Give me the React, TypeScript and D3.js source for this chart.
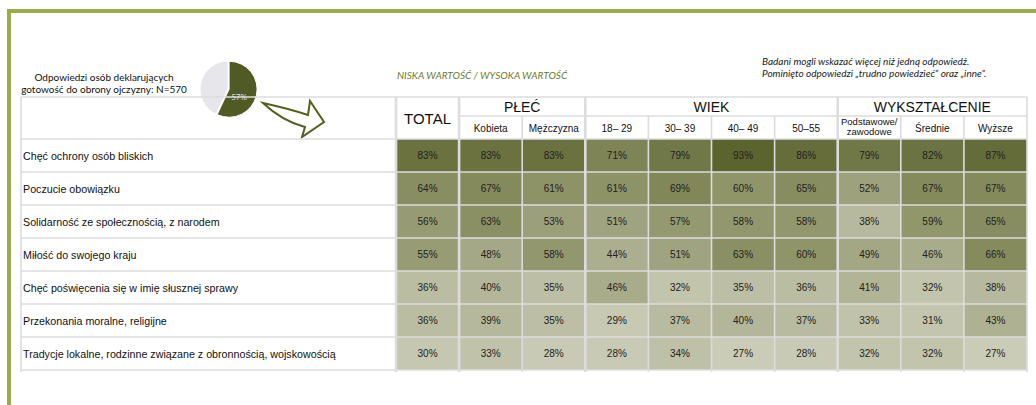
import * as d3 from 'd3'

const rowLabels = [
  'Chęć ochrony osób bliskich',
  'Poczucie obowiązku',
  'Solidarność ze społecznością, z narodem',
  'Miłość do swojego kraju',
  'Chęć poświęcenia się w imię słusznej sprawy',
  'Przekonania moralne, religijne',
  'Tradycje lokalne, rodzinne związane z obronnością, wojskowością',
]

const columnKeys = ['total', 'k', 'm', 'a1', 'a2', 'a3', 'a4', 'e1', 'e2', 'e3']
const subLabels = ['', 'Kobieta', 'Mężczyzna', '18– 29', '30– 39', '40– 49', '50–55', '', 'Średnie', 'Wyższe']

const groups = [
  { label: 'PŁEĆ', from: 'k', to: 'm' },
  { label: 'WIEK', from: 'a1', to: 'a4' },
  { label: 'WYKSZTAŁCENIE', from: 'e1', to: 'e3' },
]

const values = [
  [83, 83, 83, 71, 79, 93, 86, 79, 82, 87],
  [64, 67, 61, 61, 69, 60, 65, 52, 67, 67],
  [56, 63, 53, 51, 57, 58, 58, 38, 59, 65],
  [55, 48, 58, 44, 51, 63, 60, 49, 46, 66],
  [36, 40, 35, 46, 32, 35, 36, 41, 32, 38],
  [36, 39, 35, 29, 37, 40, 37, 33, 31, 43],
  [30, 33, 28, 28, 34, 27, 28, 32, 32, 27],
]

const pieShare = [57, 43]

const W = 1036
const H = 405
const gridColor = '#dcdcdc'
const arial = '"Liberation Sans", Arial, sans-serif'
const calibri = 'Lato, "Open Sans", sans-serif'

export default function App() {
  const x = d3.scaleBand<string>().domain(columnKeys).range([396, 1027])
  const y = d3.scaleBand<string>().domain(rowLabels).range([139, 370])
  const color = d3
    .scaleLinear<string>()
    .domain([27, 60, 93])
    .range(['#cbccb8', '#8f9469', '#5b632e'])
    .interpolate(d3.interpolateRgb)

  const bw = x.bandwidth()
  const bh = y.bandwidth()
  const tableLeft = 21
  const labelRight = 396
  const headTop = 97
  const headMid = 116
  const right = 1027

  const pie = d3.pie<number>().sort(null)(pieShare)
  const arc = d3.arc<d3.PieArcDatum<number>>().innerRadius(0).outerRadius(28)
  const pc = { x: 228, y: 89 }

  const sepX = [x('k')!, x('a1')!, x('e1')!]

  return (
    <svg width={W} height={H} style={{ position: 'absolute', left: 0, top: 0 }}>
      <rect width={W} height={H} fill="#fff" />
      {/* frame */}
      <rect x={7} y={9} width={W - 7} height={4} fill="#9aab4b" />
      <rect x={7} y={9} width={4} height={H - 9} fill="#9aab4b" />

      {/* caption */}
      <text x={104} y={80.5} textAnchor="middle" fontFamily={calibri} fontSize={10} fill="#111">
        Odpowiedzi osób deklarujących
      </text>
      <text x={104} y={93} textAnchor="middle" fontFamily={calibri} fontSize={10} fill="#111">
        gotowość do obrony ojczyzny: N=570
      </text>

      {/* pie */}
      <g transform={`translate(${pc.x},${pc.y})`}>
        {pie.map((d, i) => {
          const [cx, cy] = arc.centroid(d)
          const k = i === 0 ? 0.08 : 0
          return (
            <path
              key={i}
              d={arc(d) || ''}
              transform={`translate(${cx * k},${cy * k})`}
              fill={i === 0 ? '#4f5a25' : '#e7e6ea'}
              stroke="#fff"
              strokeWidth={1}
            />
          )
        })}
        <text x={11} y={10.5} textAnchor="middle" fontFamily={calibri} fontSize={8} fill="#dedede">
          57%
        </text>
      </g>

      {/* arrow */}
      <path
        d="M263,103 Q290,109 308,115 L310,101 L324,122 L302,137 L305,127 Q282,121 263,103 Z"
        fill="#fff"
        stroke="#55601f"
        strokeWidth={2}
        strokeLinejoin="miter"
      />

      <text x={397} y={79} fontFamily={calibri} fontStyle="italic" fontSize={10} fill="#6b7a2d">
        NISKA WARTOŚĆ / WYSOKA WARTOŚĆ
      </text>
      <text x={762} y={65} fontFamily={calibri} fontStyle="italic" fontSize={10} fill="#222">
        Badani mogli wskazać więcej niż jedną odpowiedź.
      </text>
      <text x={762} y={77} fontFamily={calibri} fontStyle="italic" fontSize={10} fill="#222">
        Pominięto odpowiedzi „trudno powiedzieć” oraz „inne”.
      </text>

      {/* cells */}
      {values.map((row, ri) =>
        row.map((v, ci) => {
          const cx = x(columnKeys[ci])!
          const cy = y(rowLabels[ri])!
          return (
            <g key={`${ri}-${ci}`}>
              <rect x={cx} y={cy} width={bw} height={bh} fill={color(v)} />
              <text
                x={cx + bw / 2}
                y={cy + bh / 2 + 3.5}
                textAnchor="middle"
                fontFamily={arial}
                fontSize={10}
                fill="#222"
              >
                {v}%
              </text>
            </g>
          )
        }),
      )}

      {/* grid: horizontal */}
      {[headTop, ...rowLabels.map((r) => y(r)!), 370].map((yy, i) => (
        <line key={`h${i}`} x1={tableLeft} x2={right} y1={yy} y2={yy} stroke={gridColor} strokeWidth={1.6} />
      ))}
      <line x1={x('k')!} x2={right} y1={headMid} y2={headMid} stroke={gridColor} strokeWidth={1.6} />

      {/* grid: vertical */}
      <line x1={tableLeft} x2={tableLeft} y1={headTop} y2={372} stroke={gridColor} strokeWidth={1.6} />
      {columnKeys.map((c, i) => {
        const xx = x(c)!
        const sep = sepX.includes(xx) || i === 0
        return (
          <line
            key={`v${c}`}
            x1={xx}
            x2={xx}
            y1={sep ? headTop : headMid}
            y2={372}
            stroke={gridColor}
            strokeWidth={sep ? 2.6 : 1.6}
          />
        )
      })}
      <line x1={right} x2={right} y1={headTop} y2={372} stroke={gridColor} strokeWidth={1.6} />

      {/* header texts */}
      <text x={x('total')! + bw / 2} y={123.5} textAnchor="middle" fontFamily={arial} fontSize={15} fill="#111">
        TOTAL
      </text>
      {groups.map((g) => {
        const x0 = x(g.from)!
        const x1 = x(g.to)! + bw
        return (
          <text key={g.label} x={(x0 + x1) / 2} y={111.5} textAnchor="middle" fontFamily={arial} fontSize={14} fill="#111">
            {g.label}
          </text>
        )
      })}
      {subLabels.map((s, i) =>
        s ? (
          <text
            key={`s${i}`}
            x={x(columnKeys[i])! + bw / 2}
            y={131.5}
            textAnchor="middle"
            fontFamily={arial}
            fontSize={10}
            fill="#111"
          >
            {s}
          </text>
        ) : null,
      )}
      <text x={x('e1')! + bw / 2} y={125} textAnchor="middle" fontFamily={arial} fontSize={9.5} fill="#111">
        Podstawowe/
      </text>
      <text x={x('e1')! + bw / 2} y={135} textAnchor="middle" fontFamily={arial} fontSize={9.5} fill="#111">
        zawodowe
      </text>

      {/* row labels */}
      {rowLabels.map((r) => (
        <text key={r} x={23} y={y(r)! + bh / 2 + 4} fontFamily={arial} fontSize={10.7} fill="#111">
          {r}
        </text>
      ))}
      <line x1={labelRight} x2={labelRight} y1={headTop} y2={372} stroke={gridColor} strokeWidth={1.6} />
    </svg>
  )
}
